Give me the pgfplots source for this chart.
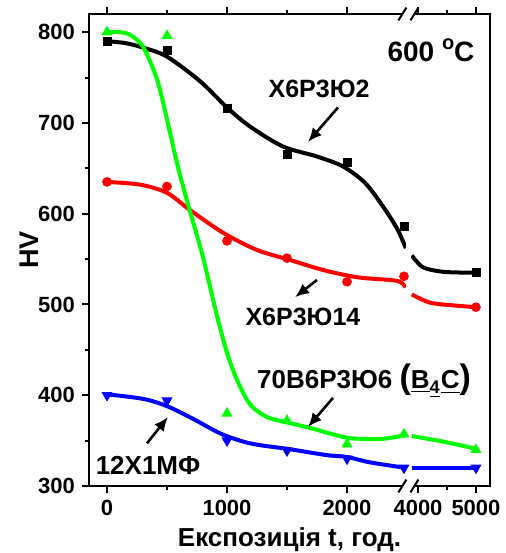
\documentclass[border=0pt]{standalone}
\usepackage{fontspec}
\setmainfont{Liberation Sans}
\usepackage{pgfplots}
\pgfplotsset{compat=1.18}
\usetikzlibrary{arrows.meta}
\definecolor{cgreen}{RGB}{0,255,0}
\definecolor{cred}{RGB}{255,0,0}
\definecolor{cblue}{RGB}{0,0,255}
\begin{document}
\begin{tikzpicture}
\begin{axis}[
  scale only axis, width=200.5pt, height=236pt,
  xmin=-150, xmax=3192, ymin=300, ymax=820,
  clip=false,
  axis line style={line width=1pt},
  xtick={0,1000,2000,2592,3075}, xticklabels={0,1000,2000,4000,5000},
  minor xtick={500,1500,2833},
  ytick={300,400,...,800}, minor ytick={350,450,...,750},
  tick align=outside, xtick pos=both, xticklabel pos=bottom, ytick pos=left,
  major tick length=3.5pt, minor tick length=2.2pt,
  every tick/.style={line width=1pt, black},
  /pgf/number format/assume math mode=true,
  tick label style={font=\bfseries\fontsize{11}{13}\selectfont},
  xlabel={Експозиція t, год.}, ylabel={HV},
  every axis x label/.style={at={(axis description cs:0.5,-0.129)}, anchor=base, font=\bfseries\fontsize{13}{15}\selectfont},
  every axis y label/.style={at={(axis description cs:-0.1496,0.5)}, anchor=center, rotate=90, font=\bfseries\fontsize{13.5}{15}\selectfont},
]
\coordinate (A) at (rel axis cs:0,0);
\coordinate (B) at (rel axis cs:1,1);
% black
\addplot[black, line width=2pt, smooth] coordinates {(0,790) (150,788) (300,783) (500,773) (775,746) (1000,717) (1192,696) (1467,674) (1750,663) (1967,652) (2150,634) (2300,608) (2420,583) (2490,562)};
\addplot[black, line width=2pt, smooth] coordinates {(2540,554) (2633,541) (2800,536) (3025,535) (3075,535)};
\addplot[only marks, black, mark=square*, mark size=2pt] coordinates {(0,790) (500,780) (1000,716) (1500,665) (2000,656) (2475,586) (3075,535)};
% red
\addplot[cred, line width=2pt, smooth] coordinates {(0,635) (275,632) (500,623) (692,604) (967,579) (1250,560) (1525,549) (1800,538) (2083,530) (2358,527) (2442,525) (2490,519)};
\addplot[cred, line width=2pt, smooth] coordinates {(2540,511) (2692,502) (2883,499) (3075,497)};
\addplot[only marks, cred, mark=*, mark size=2.2pt] coordinates {(0,635) (500,630) (1000,570) (1500,551) (2000,525) (2475,531) (3075,497)};
% green
\addplot[cgreen, line width=2pt, smooth] coordinates {(0,800) (108,800) (192,797) (300,784) (417,748) (500,704) (583,656) (667,614) (750,576) (800,552) (858,520) (925,483) (1000,447) (1083,417) (1192,390) (1333,376) (1500,370) (1692,364) (1967,354) (2108,352) (2300,352) (2490,356)};
\addplot[cgreen, line width=2pt, smooth] coordinates {(2540,355) (2800,349) (3075,341)};
\addplot[only marks, cgreen, mark=triangle*, mark size=2.8pt] coordinates {(0,800) (500,796) (1000,380) (1500,372) (2000,346) (2475,357) (3075,340)};
% blue
\addplot[cblue, line width=2pt, smooth] coordinates {(0,401) (300,396) (500,388) (717,374) (942,358) (1133,349) (1275,345) (1500,341) (1833,334) (2000,332) (2192,326) (2490,320)};
\addplot[cblue, line width=2pt, smooth] coordinates {(2540,320) (3075,320)};
\addplot[only marks, cblue, mark=triangle*, mark options={rotate=180}, mark size=2.8pt] coordinates {(0,400) (500,394) (1000,350) (1500,339) (2000,330) (2475,320) (3075,320)};
% break
\fill[white] (axis cs:2490,301) rectangle (axis cs:2535,819);
\fill[white] ([xshift=-2.6pt,yshift=-1.2pt]axis cs:2512,820) rectangle ([xshift=2.6pt,yshift=1.2pt]axis cs:2512,820);
\draw[line width=1pt] ([xshift=-5pt,yshift=-3.2pt]axis cs:2512,820) -- ([xshift=-1pt,yshift=3.2pt]axis cs:2512,820);
\draw[line width=1pt] ([xshift=1pt,yshift=-3.2pt]axis cs:2512,820) -- ([xshift=5pt,yshift=3.2pt]axis cs:2512,820);
\fill[white] ([xshift=-2.6pt,yshift=-1.2pt]axis cs:2512,300) rectangle ([xshift=2.6pt,yshift=1.2pt]axis cs:2512,300);
\draw[line width=1pt] ([xshift=-5pt,yshift=-3.2pt]axis cs:2512,300) -- ([xshift=-1pt,yshift=3.2pt]axis cs:2512,300);
\draw[line width=1pt] ([xshift=1pt,yshift=-3.2pt]axis cs:2512,300) -- ([xshift=5pt,yshift=3.2pt]axis cs:2512,300);
% annotations
\node[font=\bfseries\fontsize{12.5}{14}\selectfont] at (axis cs:1767,738) {Х6Р3Ю2};
\node[font=\bfseries\fontsize{14}{16}\selectfont] at (axis cs:2700,780) {600 {\fontsize{10}{12}\selectfont\raisebox{1.05ex}{o}}C};
\node[font=\bfseries\fontsize{12.5}{14}\selectfont] at (axis cs:1633,486) {Х6Р3Ю14};
\node[font=\bfseries\fontsize{13}{15}\selectfont] at (axis cs:2142,416) {70В6Р3Ю6 {\fontsize{17}{17}\selectfont(}\underline{B}\textsubscript{\underline{4}}\underline{C}{\fontsize{17}{17}\selectfont)}};
\node[font=\bfseries\fontsize{13}{15}\selectfont] at (axis cs:342,323) {12Х1МФ};
\draw[line width=1.3pt, -{Latex[length=7pt,width=6pt]}] (axis cs:1925,717) -- (axis cs:1675,679);
\draw[line width=1.3pt, -{Latex[length=7pt,width=6pt]}] (axis cs:1750,527) -- (axis cs:1567,508);
\draw[line width=1.3pt, -{Latex[length=7pt,width=6pt]}] (axis cs:1883,397) -- (axis cs:1675,365);
\draw[line width=1.3pt, -{Latex[length=7pt,width=6pt]}] (axis cs:333,347) -- (axis cs:508,376);
\end{axis}
\pgfresetboundingbox
\path[use as bounding box] ([xshift=-44.5pt,yshift=-33.5pt]A) rectangle ([xshift=7.5pt,yshift=7pt]B);
\end{tikzpicture}
\end{document}
